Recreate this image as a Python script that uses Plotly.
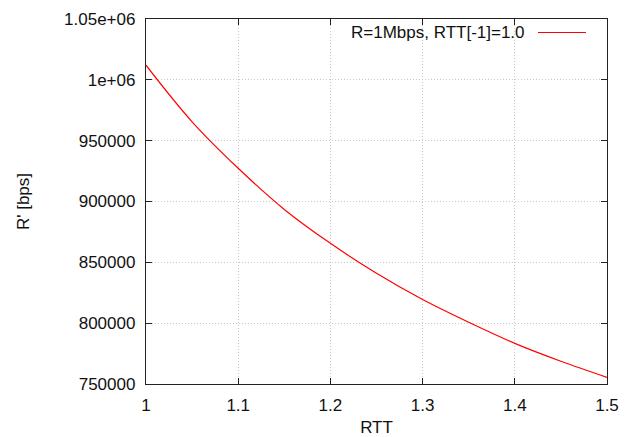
import plotly.graph_objects as go

# Data
rtt = [1.00, 1.05, 1.10, 1.15, 1.20, 1.25, 1.30, 1.35, 1.40, 1.45, 1.50]
r_prime = [1012000, 965500, 927300, 893500, 865600, 841000, 819400, 800700, 783400, 768700, 755500]

series_name = "R=1Mbps, RTT[-1]=1.0"
x_ticks = [1, 1.1, 1.2, 1.3, 1.4, 1.5]
x_tick_text = ["1", "1.1", "1.2", "1.3", "1.4", "1.5"]
y_ticks = [750000, 800000, 850000, 900000, 950000, 1000000, 1050000]
y_tick_text = ["750000", "800000", "850000", "900000", "950000", "1e+06", "1.05e+06"]

FONT = "Liberation Sans, Arial, sans-serif"

fig = go.Figure()
fig.add_trace(go.Scatter(
    x=rtt, y=r_prime, mode="lines", name=series_name,
    line=dict(color="#ff0000", width=1.2, shape="spline", smoothing=1.0),
    showlegend=False,
))

axis_common = dict(
    showline=True, linecolor="#222222", linewidth=1.3, mirror="ticks",
    ticks="inside", ticklen=6, tickcolor="#222222", tickwidth=1.2,
    showgrid=True, gridcolor="#c8c8c8", gridwidth=1, griddash="1px,2px",
    zeroline=False, automargin=False,
    tickfont=dict(family=FONT, size=17, color="#111111"),
)

fig.update_xaxes(
    range=[1, 1.5], tickvals=x_ticks, ticktext=x_tick_text,
    title=dict(text="RTT", font=dict(family=FONT, size=17, color="#111111"), standoff=12),
    ticklabelstandoff=5,
    **axis_common,
)
fig.update_yaxes(
    range=[750000, 1050000], tickvals=y_ticks, ticktext=y_tick_text,
    title=dict(text="R' [bps]", font=dict(family=FONT, size=17, color="#111111"), standoff=30),
    ticklabelstandoff=6,
    **axis_common,
)

# gnuplot-style key: text followed by line sample
fig.add_annotation(
    xref="paper", yref="paper", x=0.8265, y=0.963, xanchor="right", yanchor="middle",
    text=series_name, showarrow=False,
    font=dict(family=FONT, size=17, color="#111111"),
)
fig.add_shape(
    type="line", xref="paper", yref="paper", x0=0.8503, x1=0.9544, y0=0.963, y1=0.963,
    line=dict(color="#ff0000", width=1.2),
)

fig.update_layout(
    width=629, height=437,
    margin=dict(l=146, r=22, t=19, b=53),
    paper_bgcolor="white", plot_bgcolor="white",
    font=dict(family=FONT),
)

fig.write_html(
    "out.html",
    config={"displayModeBar": False},
    post_script="document.body.style.margin='0';document.body.style.overflow='hidden';",
)
